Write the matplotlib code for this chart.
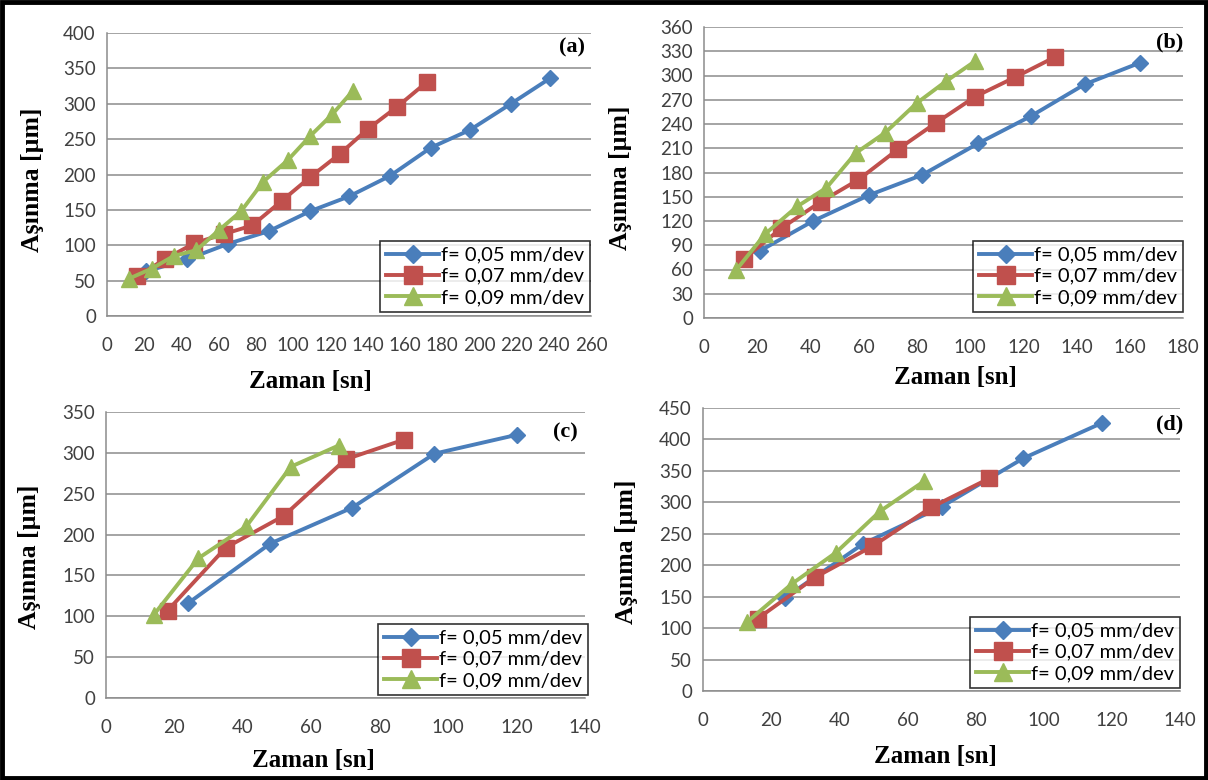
import numpy as np
import matplotlib
matplotlib.use('Agg')
import matplotlib.pyplot as plt
from matplotlib.patches import Rectangle

# legend names
series_names = ['f= 0,05 mm/dev', 'f= 0,07 mm/dev', 'f= 0,09 mm/dev']

# panel (a)
a_x05 = [21, 43, 65, 87, 109, 130, 152, 174, 195, 217, 238]
a_y05 = [63, 80, 102, 120, 148, 169, 198, 238, 263, 300, 336]
a_x07 = [16, 31, 47, 63, 78, 94, 109, 125, 140, 156, 172]
a_y07 = [56, 80, 103, 116, 128, 163, 196, 229, 264, 296, 331]
a_x09 = [12, 24, 36, 48, 60, 72, 84, 97, 109, 121, 132]
a_y09 = [53, 67, 85, 93, 121, 148, 190, 220, 254, 285, 318]

# panel (b)
b_x05 = [21, 41, 62, 82, 103, 123, 143, 164]
b_y05 = [83, 120, 152, 177, 216, 250, 289, 316]
b_x07 = [15, 29, 44, 58, 73, 87, 102, 117, 132]
b_y07 = [73, 111, 144, 171, 209, 241, 274, 298, 323]
b_x09 = [12, 23, 35, 46, 57, 68, 80, 91, 102]
b_y09 = [59, 104, 138, 161, 204, 229, 266, 293, 318]

# panel (c)
c_x05 = [24, 48, 72, 96, 120]
c_y05 = [116, 189, 233, 299, 322]
c_x07 = [18, 35, 52, 70, 87]
c_y07 = [107, 184, 223, 292, 316]
c_x09 = [14, 27, 41, 54, 68]
c_y09 = [102, 171, 210, 283, 309]

# panel (d)
d_x05 = [24, 47, 70, 94, 117]
d_y05 = [148, 234, 293, 370, 426]
d_x07 = [16, 33, 50, 67, 84]
d_y07 = [115, 181, 231, 292, 338]
d_x09 = [13, 26, 39, 52, 65]
d_y09 = [110, 170, 220, 286, 334]

colors = ['#4A7EBB', '#C0504D', '#9BBB59']
markers = ['D', 's', '^']
msizes = [8, 11, 11]

W, H = 1208, 780
fig = plt.figure(figsize=(W / 100, H / 100), dpi=100)
fig.patch.set_facecolor('white')
fig.patches.append(Rectangle((0.002, 0.003), 0.996, 0.994, transform=fig.transFigure,
                             fill=False, edgecolor='black', lw=3.5))

tick_font = 'Lato'
serif = 'Liberation Serif'

panels = [
    # tag, xs, ys, plot box (l, r, top, bottom px), xmax, xstep, ymax, ystep, ylabel, xlabel, tag, legend corner
    ('(a)', [a_x05, a_x07, a_x09], [a_y05, a_y07, a_y09], (107, 591, 33, 316), 260, 20, 400, 50,
     (32, 180), (310, 381), (572, 47), (590, 312)),
    ('(b)', [b_x05, b_x07, b_x09], [b_y05, b_y07, b_y09], (704, 1183, 27, 318), 180, 20, 360, 30,
     (620, 178), (955, 377), (1170, 42), (1183, 312)),
    ('(c)', [c_x05, c_x07, c_x09], [c_y05, c_y07, c_y09], (106, 585, 412, 698), 140, 20, 350, 50,
     (30, 557), (313, 760), (565, 432), (588, 695)),
    ('(d)', [d_x05, d_x07, d_x09], [d_y05, d_y07, d_y09], (703, 1180, 408, 691), 140, 20, 450, 50,
     (626, 552), (935, 757), (1170, 424), (1180, 688)),
]

for tag, xs, ys, box, xmax, xstep, ymax, ystep, ylxy, xlxy, tagxy, legxy in panels:
    l, r, t, b = box
    ax = fig.add_axes([l / W, 1 - b / H, (r - l) / W, (b - t) / H])
    for i in range(3):
        ax.plot(xs[i], ys[i], color=colors[i], lw=2.8, marker=markers[i],
                ms=msizes[i], label=series_names[i], clip_on=False, zorder=3 + i)
    ax.set_xlim(0, xmax)
    ax.set_ylim(0, ymax)
    ax.set_xticks(np.arange(0, xmax + 1, xstep))
    ax.set_yticks(np.arange(0, ymax + 1, ystep))
    ax.yaxis.grid(True, color='#8C8C8C', lw=1.1)
    ax.set_axisbelow(True)
    for s in ['top', 'right']:
        ax.spines[s].set_visible(False)
    for s in ['left', 'bottom']:
        ax.spines[s].set_color('#8C8C8C')
        ax.spines[s].set_linewidth(1.1)
    ax.tick_params(length=0, labelsize=13.5, colors='#404040', pad=8)
    ax.tick_params(axis='x', pad=15)
    for lab in ax.get_xticklabels() + ax.get_yticklabels():
        lab.set_fontfamily(tick_font)
    leg = ax.legend(loc='lower right',
                    bbox_to_anchor=((legxy[0] - l) / (r - l), (b - legxy[1]) / (b - t)),
                    prop={'family': tick_font, 'size': 14.5}, frameon=True, fancybox=False,
                    handlelength=2.6, handletextpad=0.1, borderpad=0.3, labelspacing=0.2,
                    borderaxespad=0, markerscale=1.15)
    leg.get_frame().set_edgecolor('black')
    leg.get_frame().set_linewidth(1.2)
    fig.text(ylxy[0] / W, 1 - ylxy[1] / H, 'Aşınma [µm]', rotation=90, ha='center', va='center',
             fontsize=18.5, fontweight='bold', family=serif)
    fig.text(xlxy[0] / W, 1 - xlxy[1] / H, 'Zaman [sn]', ha='center', va='center',
             fontsize=18, fontweight='bold', family=serif)
    fig.text(tagxy[0] / W, 1 - tagxy[1] / H, tag, ha='center', va='center',
             fontsize=16, fontweight='bold', family=serif)

fig.savefig('out.png', dpi=100)
